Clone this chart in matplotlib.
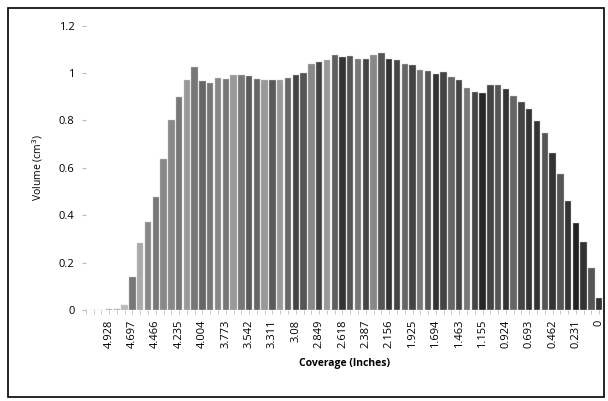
import matplotlib
matplotlib.use('Agg')
import matplotlib.pyplot as plt
from matplotlib.patches import Rectangle

plt.rcParams['font.family'] = ['Open Sans', 'DejaVu Sans']

# coverage categories (in units of 0.077 inch); one step is skipped between 1.463 and 1.155
steps = list(range(67, 17, -1)) + list(range(16, -1, -1))
coverage = [round(k * 0.077, 3) for k in steps]

volume = [0, 0, 0, 0.002, 0.003, 0.021, 0.139, 0.284, 0.371, 0.478,
          0.637, 0.802, 0.899, 0.971, 1.026, 0.968, 0.958, 0.979, 0.975, 0.992,
          0.992, 0.988, 0.975, 0.971, 0.971, 0.971, 0.979, 0.993, 1.0, 1.038,
          1.047, 1.055, 1.076, 1.067, 1.071, 1.06, 1.058, 1.076, 1.083, 1.06,
          1.055, 1.038, 1.033, 1.013, 1.008, 0.996, 1.003, 0.984, 0.971, 0.937,
          0.92, 0.916, 0.948, 0.948, 0.933, 0.902, 0.878, 0.847, 0.798, 0.747,
          0.663, 0.573, 0.46, 0.367, 0.287, 0.177, 0.052]

shades = ['#999999', '#999999', '#999999', '#aaaaaa', '#aaaaaa', '#bbbbbb', '#777777', '#aaaaaa', '#888888', '#777777',
          '#888888', '#888888', '#777777', '#999999', '#777777', '#666666', '#777777', '#888888', '#777777', '#999999',
          '#777777', '#5a5a5a', '#666666', '#999999', '#5a5a5a', '#999999', '#666666', '#444444', '#555555', '#888888',
          '#444444', '#999999', '#5e5e5e', '#333333', '#555555', '#777777', '#444444', '#888888', '#555555', '#333333',
          '#444444', '#666666', '#444444', '#777777', '#555555', '#333333', '#444444', '#666666', '#444444', '#777777',
          '#444444', '#262626', '#444444', '#555555', '#333333', '#666666', '#444444', '#333333', '#333333', '#555555',
          '#333333', '#555555', '#333333', '#222222', '#333333', '#555555', '#333333']

# every third category carries a label, starting at 4.928
labels = [('%g' % c) if (i % 3 == 0 and i >= 3) else '' for i, c in enumerate(coverage)]

fig = plt.figure(figsize=(6.08, 4.01), dpi=100)
ax = fig.add_axes([0.141, 0.227, 0.851, 0.709])

x = list(range(len(volume)))
ax.bar(x, volume, width=0.82, color=shades, edgecolor='#c8c8c8', linewidth=0.3)

ax.set_xlim(0, len(volume) - 0.5)
ax.set_ylim(0, 1.2)
ax.set_yticks([0, 0.2, 0.4, 0.6, 0.8, 1, 1.2])
ax.set_yticklabels(['0', '0.2', '0.4', '0.6', '0.8', '1', '1.2'])
ax.set_xticks(x)
ax.set_xticklabels(labels, rotation=90)

for s in ax.spines.values():
    s.set_visible(False)
ax.tick_params(axis='y', length=3, width=0.8, color='#bbbbbb', pad=5, labelsize=8)
ax.tick_params(axis='x', length=3, width=0.6, color='#bbbbbb', pad=4, labelsize=8)

ax.set_ylabel('Volume (cm$^3$)', fontsize=7.5, labelpad=10)
ax.set_xlabel('Coverage (Inches)', fontsize=7.5, fontweight='bold', labelpad=7)

fig.patches.append(Rectangle((8 / 608, 4 / 401), 596 / 608, 389 / 401,
                             transform=fig.transFigure, fill=False,
                             edgecolor='black', linewidth=1.2))

fig.savefig('out.png', dpi=100)
